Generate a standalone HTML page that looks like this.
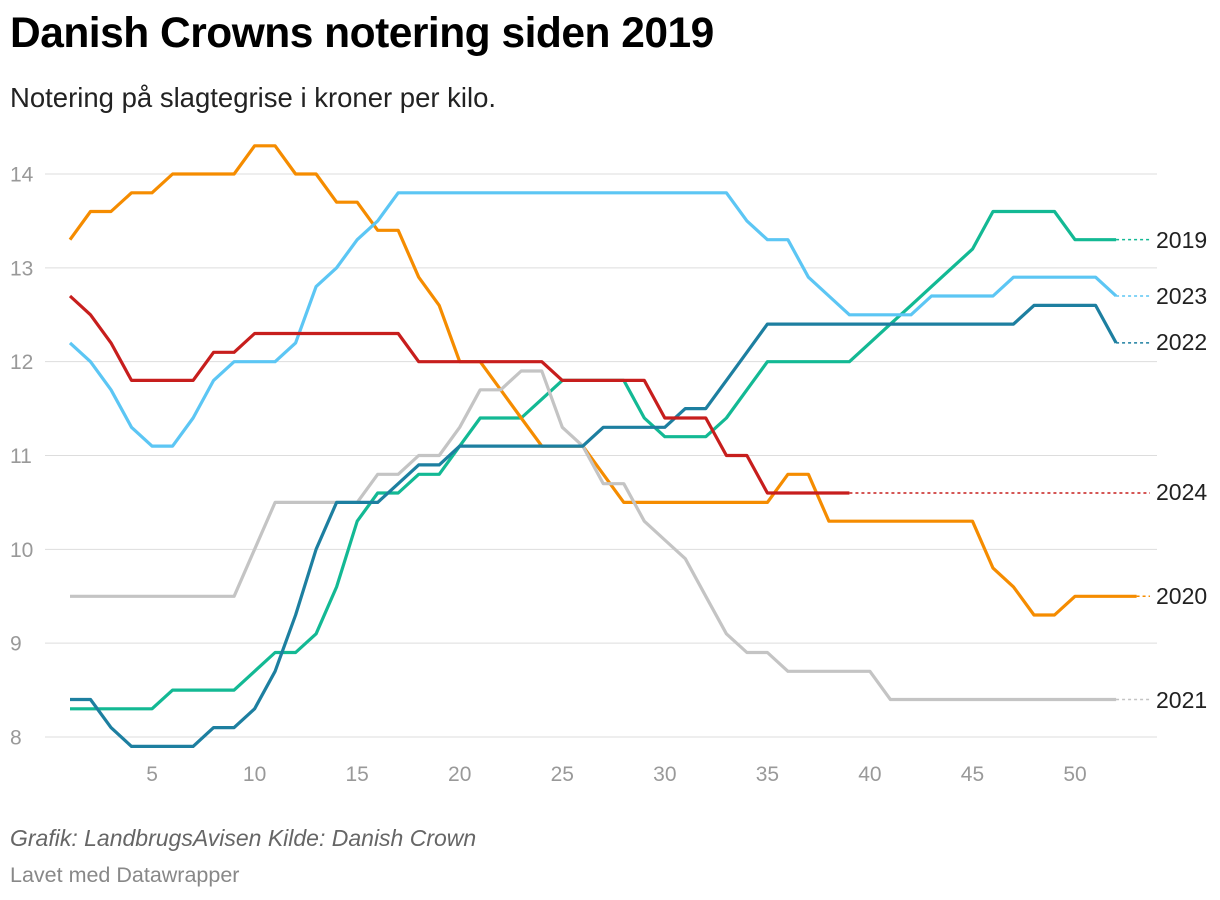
<!DOCTYPE html>
<html><head><meta charset="utf-8"><style>
body{margin:0;background:#fff;font-family:"Liberation Sans",sans-serif;width:1220px;height:900px;overflow:hidden;position:relative}
h1{position:absolute;left:10px;top:10px;margin:0;font-size:42.5px;font-weight:bold;color:#000;letter-spacing:-0.5px}
.sub{position:absolute;left:10px;top:82px;font-size:27.5px;color:#222}
.foot1{position:absolute;left:10px;top:825px;font-size:23px;font-style:italic;color:#666}
.foot2{position:absolute;left:10px;top:863px;font-size:21.5px;color:#888}
svg{position:absolute;left:0;top:0}
</style></head><body>
<h1>Danish Crowns notering siden 2019</h1>
<div class="sub">Notering på slagtegrise i kroner per kilo.</div>
<svg id="chart" width="1220" height="900"></svg>
<div class="foot1">Grafik: LandbrugsAvisen Kilde: Danish Crown</div>
<div class="foot2">Lavet med Datawrapper</div>
<script>
const yTicks=[8,9,10,11,12,13,14];
const xTicks=[5,10,15,20,25,30,35,40,45,50];
const seriesNames=["2019","2020","2021","2022","2023","2024"];
const s2019=[8.3,8.3,8.3,8.3,8.3,8.5,8.5,8.5,8.5,8.7,8.9,8.9,9.1,9.6,10.3,10.6,10.6,10.8,10.8,11.1,11.4,11.4,11.4,11.6,11.8,11.8,11.8,11.8,11.4,11.2,11.2,11.2,11.4,11.7,12.0,12.0,12.0,12.0,12.0,12.2,12.4,12.6,12.8,13.0,13.2,13.6,13.6,13.6,13.6,13.3,13.3,13.3];
const s2020=[13.3,13.6,13.6,13.8,13.8,14.0,14.0,14.0,14.0,14.3,14.3,14.0,14.0,13.7,13.7,13.4,13.4,12.9,12.6,12.0,12.0,11.7,11.4,11.1,11.1,11.1,10.8,10.5,10.5,10.5,10.5,10.5,10.5,10.5,10.5,10.8,10.8,10.3,10.3,10.3,10.3,10.3,10.3,10.3,10.3,9.8,9.6,9.3,9.3,9.5,9.5,9.5,9.5];
const s2021=[9.5,9.5,9.5,9.5,9.5,9.5,9.5,9.5,9.5,10.0,10.5,10.5,10.5,10.5,10.5,10.8,10.8,11.0,11.0,11.3,11.7,11.7,11.9,11.9,11.3,11.1,10.7,10.7,10.3,10.1,9.9,9.5,9.1,8.9,8.9,8.7,8.7,8.7,8.7,8.7,8.4,8.4,8.4,8.4,8.4,8.4,8.4,8.4,8.4,8.4,8.4,8.4];
const s2022=[8.4,8.4,8.1,7.9,7.9,7.9,7.9,8.1,8.1,8.3,8.7,9.3,10.0,10.5,10.5,10.5,10.7,10.9,10.9,11.1,11.1,11.1,11.1,11.1,11.1,11.1,11.3,11.3,11.3,11.3,11.5,11.5,11.8,12.1,12.4,12.4,12.4,12.4,12.4,12.4,12.4,12.4,12.4,12.4,12.4,12.4,12.4,12.6,12.6,12.6,12.6,12.2];
const s2023=[12.2,12.0,11.7,11.3,11.1,11.1,11.4,11.8,12.0,12.0,12.0,12.2,12.8,13.0,13.3,13.5,13.8,13.8,13.8,13.8,13.8,13.8,13.8,13.8,13.8,13.8,13.8,13.8,13.8,13.8,13.8,13.8,13.8,13.5,13.3,13.3,12.9,12.7,12.5,12.5,12.5,12.5,12.7,12.7,12.7,12.7,12.9,12.9,12.9,12.9,12.9,12.7];
const s2024=[12.7,12.5,12.2,11.8,11.8,11.8,11.8,12.1,12.1,12.3,12.3,12.3,12.3,12.3,12.3,12.3,12.3,12.0,12.0,12.0,12.0,12.0,12.0,12.0,11.8,11.8,11.8,11.8,11.8,11.4,11.4,11.4,11.0,11.0,10.6,10.6,10.6,10.6,10.6];
const series=[s2019,s2020,s2021,s2022,s2023,s2024];
const colors=["#13b994","#f58c00","#c4c4c4","#1d7fa0","#5cc6f4","#c71e1d"];
const labelY=[240,596,700,342,296,492];
const NS="http://www.w3.org/2000/svg";
const svg=document.getElementById('chart');
const X=w=>70+(w-1)*(1075-152)/45;
const Y=v=>737-(v-8)*(737-174)/6;
function mk(t,a){const e=document.createElementNS(NS,t);for(const k in a)e.setAttribute(k,a[k]);svg.appendChild(e);return e;}
yTicks.forEach(t=>{
 const l=mk('line',{x1:45,x2:1157,y1:Y(t),y2:Y(t),stroke:'#ddd','stroke-width':1});
 
 
 const tx=mk('text',{x:10,y:Y(t)+7.5,'font-size':21,fill:'#999','font-family':'Liberation Sans'});
 tx.textContent=t;
 
 
});
xTicks.forEach(t=>{
 const tx=mk('text',{x:X(t),y:781,'font-size':21,fill:'#999','text-anchor':'middle','font-family':'Liberation Sans'});
 tx.textContent=t;
 
 
});
series.forEach((s,i)=>{
 const pts=s.map((v,k)=>X(k+1).toFixed(1)+','+Y(v).toFixed(1)).join(' ');
 const p=mk('polyline',{points:pts,fill:'none',stroke:colors[i],'stroke-width':3.2,'stroke-linejoin':'round'});
 
 
 const lx=X(s.length),ly=Y(s[s.length-1]);
 const d=mk('line',{x1:lx,x2:1150,y1:ly,y2:ly,stroke:colors[i],'stroke-width':1.5,'stroke-dasharray':'3,3'});
 
 
 const tx=mk('text',{x:1156,y:labelY[i]+8,'font-size':23,fill:'#222','font-family':'Liberation Sans'});
 tx.textContent=seriesNames[i];
 
 
});
</script>
</body></html>
